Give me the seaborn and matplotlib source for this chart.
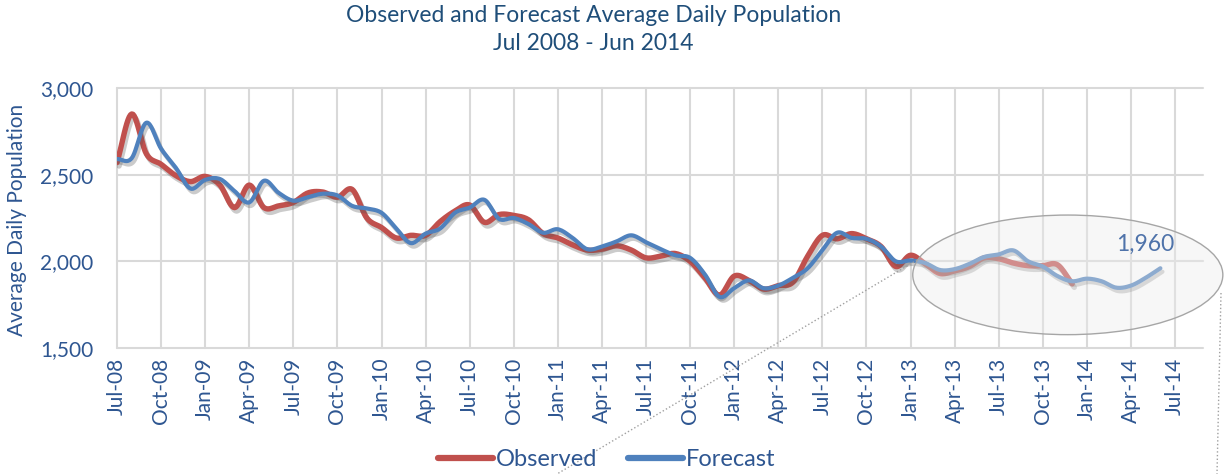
import numpy as np
import pandas as pd
import matplotlib
matplotlib.use('Agg')
import matplotlib.pyplot as plt
import matplotlib.patheffects as pe
from matplotlib.patches import Ellipse
from matplotlib.lines import Line2D
import seaborn as sns

# Monthly values, month 0 = Jul-08
observed = [2570, 2850, 2620, 2560, 2495, 2460, 2490, 2440, 2310, 2440, 2310, 2320,
            2340, 2395, 2400, 2370, 2415, 2250, 2195, 2135, 2150, 2150, 2230, 2290,
            2325, 2225, 2270, 2265, 2240, 2160, 2135, 2095, 2065, 2070, 2090, 2065,
            2020, 2030, 2045, 2000, 1905, 1805, 1915, 1890, 1840, 1860, 1880, 2030,
            2150, 2130, 2160, 2130, 2085, 1970, 2035, 1985, 1930, 1945, 1970, 2020,
            2015, 1990, 1975, 1975, 1980, 1870]

forecast = [2590, 2595, 2800, 2650, 2540, 2420, 2470, 2475, 2405, 2340, 2465, 2395,
            2350, 2370, 2390, 2380, 2320, 2305, 2280, 2190, 2105, 2160, 2190, 2280,
            2310, 2355, 2245, 2250, 2215, 2165, 2185, 2135, 2070, 2085, 2115, 2150,
            2110, 2070, 2035, 2020, 1925, 1795, 1845, 1890, 1845, 1860, 1905, 1960,
            2065, 2165, 2135, 2130, 2085, 2000, 2005, 1990, 1950, 1955, 1985, 2025,
            2040, 2063, 2000, 1970, 1915, 1885, 1900, 1885, 1848, 1860, 1905, 1960]

tick_labels = ['Jul-08', 'Oct-08', 'Jan-09', 'Apr-09', 'Jul-09', 'Oct-09', 'Jan-10',
               'Apr-10', 'Jul-10', 'Oct-10', 'Jan-11', 'Apr-11', 'Jul-11', 'Oct-11',
               'Jan-12', 'Apr-12', 'Jul-12', 'Oct-12', 'Jan-13', 'Apr-13', 'Jul-13',
               'Oct-13', 'Jan-14', 'Apr-14', 'Jul-14']
y_ticks = [1500, 2000, 2500, 3000]

RED = '#C0504D'
BLUE = '#4F81BD'
TEXT = '#2E5691'
GRID = '#D9D9D9'


# Excel-like smoothed line (Catmull-Rom through the monthly points)
def smooth(values, steps=12):
    y = np.asarray(values, dtype=float)
    x = np.arange(len(y), dtype=float)
    px = np.concatenate([[2 * x[0] - x[1]], x, [2 * x[-1] - x[-2]]])
    py = np.concatenate([[2 * y[0] - y[1]], y, [2 * y[-1] - y[-2]]])
    xs, ys = [], []
    t = np.linspace(0, 1, steps, endpoint=False)
    for i in range(1, len(px) - 2):
        for arr, out in ((px, xs), (py, ys)):
            p0, p1, p2, p3 = arr[i - 1], arr[i], arr[i + 1], arr[i + 2]
            out.extend(0.5 * (2 * p1 + (-p0 + p2) * t
                              + (2 * p0 - 5 * p1 + 4 * p2 - p3) * t ** 2
                              + (-p0 + 3 * p1 - 3 * p2 + p3) * t ** 3))
    xs.append(x[-1])
    ys.append(y[-1])
    return pd.DataFrame({'Month': xs, 'Population': ys})


def main():
    sns.set_theme(style='white')
    plt.rcParams['font.family'] = ['Lato', 'DejaVu Sans']

    fig = plt.figure(figsize=(12.24, 4.74), dpi=100)
    ax = fig.add_axes([117 / 1224, 1 - 348 / 474, (1203 - 117) / 1224, 260 / 474])

    shadow = [pe.SimpleLineShadow(offset=(1.5, -2.5), shadow_color='#555555', alpha=0.3),
              pe.Normal()]

    obs_df = smooth(observed)
    fc_df = smooth(forecast)
    sns.lineplot(data=obs_df, x='Month', y='Population', ax=ax, color=RED,
                 linewidth=3.9, sort=False, estimator=None, path_effects=shadow, zorder=3)
    sns.lineplot(data=fc_df, x='Month', y='Population', ax=ax, color=BLUE,
                 linewidth=3.0, sort=False, estimator=None, path_effects=shadow, zorder=4)

    # Axes, ticks and grid
    ax.set_xlim(0, 73.9)
    ax.set_ylim(1500, 3000)
    ax.set_xticks(range(0, 73, 3))
    ax.set_xticklabels(tick_labels, rotation=90)
    ax.set_yticks(y_ticks)
    ax.set_yticklabels([f'{v:,}' for v in y_ticks])
    ax.tick_params(axis='both', colors=TEXT, labelsize=15, length=0)
    ax.tick_params(axis='y', pad=17)
    ax.tick_params(axis='x', pad=7)
    ax.grid(True, color=GRID, linewidth=1.5)
    ax.set_axisbelow(True)
    for gl in ax.get_xgridlines() + ax.get_ygridlines():
        gl.set_clip_on(False)
    for s in ax.spines.values():
        s.set_visible(False)
    ax.set_xlabel('')
    ax.set_ylabel('')

    # Highlight ellipse around the forecast period
    ell = Ellipse((64.7, 1922), 21.1, 690, facecolor='#EBEBEB', alpha=0.4,
                  edgecolor='none', zorder=5, clip_on=False)
    ax.add_patch(ell)
    ax.add_patch(Ellipse((64.7, 1922), 21.1, 690, facecolor='none',
                         edgecolor='#A6A6A6', linewidth=1, zorder=6, clip_on=False))
    ax.text(len(forecast) - 2.0, forecast[-1] + 140, f'{forecast[-1]:,}',
            color='#4F73AA', fontsize=16.5, ha='center', va='center', zorder=7)

    # Dotted callout lines
    fig.add_artist(Line2D([917 / 1224, 557 / 1224], [1 - 260 / 474, 0], transform=fig.transFigure,
                          color='#A0A0A0', linestyle=':', linewidth=1))
    fig.add_artist(Line2D([1221 / 1224, 1217 / 1224], [1 - 293 / 474, 0], transform=fig.transFigure,
                          color='#A0A0A0', linestyle=':', linewidth=1))

    # Titles and labels
    fig.text(0.485, 1 - 5 / 474, 'Observed and Forecast Average Daily Population\nJul 2008 - Jun 2014',
             ha='center', va='top', fontsize=16.5, color='#1F4E79', linespacing=1.4)
    fig.text(17 / 1224, 1 - 220 / 474, 'Average Daily Population', rotation=90,
             ha='center', va='center', fontsize=15, color=TEXT)

    handles = [Line2D([0], [0], color=RED, linewidth=4.5), Line2D([0], [0], color=BLUE, linewidth=4.5)]
    fig.legend(handles, ['Observed', 'Forecast'], loc='center', bbox_to_anchor=(607 / 1224, 1 - 460 / 474),
               ncol=2, frameon=False, fontsize=17, labelcolor=TEXT, handlelength=2.3,
               handletextpad=0.15, columnspacing=1.3, borderpad=0)

    fig.savefig('out.png', dpi=100)


if __name__ == "__main__":
    main()
